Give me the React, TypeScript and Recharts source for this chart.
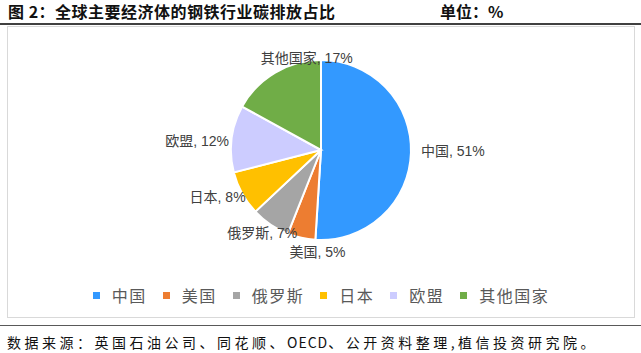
import React from "react";
import { PieChart, Pie, Cell, Legend } from "recharts";

const regions = ["中国", "美国", "俄罗斯", "日本", "欧盟", "其他国家"];
const shares = [51, 5, 7, 8, 12, 17];
const colors = ["#3399FF", "#ED7D31", "#A5A5A5", "#FFC000", "#CCCCFF", "#70AD47"];

// Excel moved some labels sideways to keep them apart
const labelNudge = [
  [2, -2],
  [24, 0],
  [16, -4],
  [7, -4],
  [5, 4],
  [59, -2],
];

const chartData = regions.map((name, i) => ({
  name,
  value: shares[i],
  fill: colors[i],
}));

const RADIAN = Math.PI / 180;
const LABEL_FONT = 14;

function textWidth(s: string) {
  let w = 0;
  for (const ch of s) {
    if (/[\u4e00-\u9fff]/.test(ch)) w += LABEL_FONT;
    else if (ch === "%") w += LABEL_FONT * 0.89;
    else if (/[0-9]/.test(ch)) w += LABEL_FONT * 0.556;
    else w += LABEL_FONT * 0.278;
  }
  return w;
}

const renderLabel = (props: any) => {
  const { cx, cy, midAngle, outerRadius, name, value, index } = props;
  const cos = Math.cos(-midAngle * RADIAN);
  const sin = Math.sin(-midAngle * RADIAN);
  const text = `${name}, ${value}%`;
  const w = textWidth(text);
  const r = outerRadius + 8;
  const [nx, ny] = labelNudge[index] || [0, 0];
  const x = cx + r * cos + (cos * w) / 2 + nx;
  const y = cy + r * sin + (sin * LABEL_FONT) / 2 + ny;
  return (
    <text
      x={x}
      y={y}
      textAnchor="middle"
      dominantBaseline="central"
      fill="#404040"
      fontSize={LABEL_FONT}
      fontFamily="'Liberation Sans', 'Noto Sans CJK SC', sans-serif"
    >
      {text}
    </text>
  );
};

const renderLegend = () => (
  <div
    style={{
      display: "flex",
      justifyContent: "center",
      alignItems: "center",
      fontFamily: "'Noto Sans CJK SC', sans-serif",
      fontSize: 16,
      letterSpacing: 1.5,
      color: "#595959",
    }}
  >
    {regions.map((name, i) => (
      <div
        key={name}
        style={{ display: "flex", alignItems: "center", marginRight: i < regions.length - 1 ? 16 : 0 }}
      >
        <span
          style={{
            display: "inline-block",
            width: 7,
            height: 7,
            background: colors[i],
            marginRight: 12,
          }}
        />
        <span style={{ lineHeight: "20px" }}>{name}</span>
      </div>
    ))}
  </div>
);

export default function App() {
  return (
    <div
      style={{
        position: "absolute",
        left: 0,
        top: 0,
        width: 641,
        height: 353,
        background: "#fff",
        fontFamily: "'Noto Sans CJK SC', sans-serif",
        overflow: "hidden",
      }}
    >
      <div
        style={{
          position: "absolute",
          left: 8,
          top: 0,
          fontSize: 16,
          fontWeight: 700,
          letterSpacing: 0.5,
          lineHeight: "22px",
          color: "#111",
        }}
      >
        图 2：全球主要经济体的钢铁行业碳排放占比
      </div>
      <div
        style={{
          position: "absolute",
          left: 440,
          top: 0,
          fontSize: 16,
          fontWeight: 700,
          lineHeight: "22px",
          color: "#111",
        }}
      >
        单位：%
      </div>
      <div style={{ position: "absolute", left: 0, top: 23, width: 641, height: 2, background: "#404040" }} />
      <div
        style={{
          position: "absolute",
          left: 7,
          top: 26,
          width: 626,
          height: 290,
          border: "1px solid #d9d9d9",
        }}
      >
        <PieChart width={626} height={290} margin={{ top: 0, right: 0, bottom: 0, left: 0 }}>
          <Pie
            data={chartData}
            dataKey="value"
            nameKey="name"
            cx={313}
            cy={123}
            outerRadius={90}
            startAngle={90}
            endAngle={-270}
            stroke="#fff"
            strokeWidth={2}
            label={renderLabel}
            labelLine={false}
            isAnimationActive={false}
          >
            {chartData.map((d, i) => (
              <Cell key={i} fill={d.fill} />
            ))}
          </Pie>
          <Legend
            verticalAlign="bottom"
            content={renderLegend}
            wrapperStyle={{ left: 0, top: 258, bottom: "auto", width: 626 }}
          />
        </PieChart>
      </div>
      <div style={{ position: "absolute", left: 0, top: 325, width: 641, height: 1, background: "#595959" }} />
      <div
        style={{
          position: "absolute",
          left: 7,
          top: 332,
          fontSize: 14,
          letterSpacing: 3.5,
          lineHeight: "20px",
          color: "#111",
          whiteSpace: "nowrap",
        }}
      >
        数据来源：英国石油公司、同花顺、<span style={{ letterSpacing: 1 }}>OECD</span>、公开资料整理,植信投资研究院。
      </div>
    </div>
  );
}
